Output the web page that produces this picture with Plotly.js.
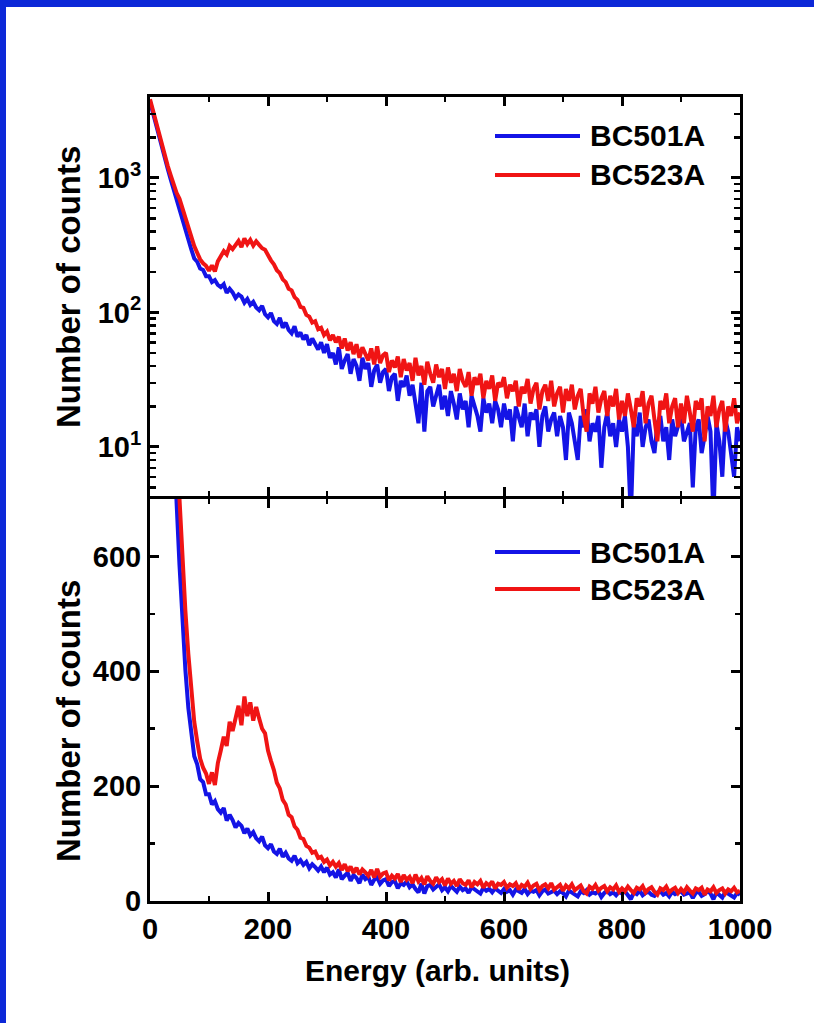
<!DOCTYPE html>
<html>
<head>
<meta charset="utf-8">
<script src="https://cdn.plot.ly/plotly-3.0.1.min.js"></script>
<style>
  html, body { margin: 0; padding: 0; background: #0c28d8; width: 814px; height: 1023px; overflow: hidden; }
  #chart { position: absolute; left: 6px; top: 7px; width: 808px; height: 1016px; background: #fff; }
</style>
</head>
<body>
<div id="chart"></div>
<script>
// ---- data ----
const seriesNames = ["BC501A", "BC523A"];
const energyStart = 0;     // first channel energy (arb. units)
const energyStep = 5;      // channel spacing (arb. units)

// counts per channel, BC501A (E = 0, 5, 10, ... 1000)
const countsBC501A = [
  3700,3020,2500,2030,1680,1390,1170,980,820,695,585,488,402,336,294,252,238,212,207,186,
  186,168,174,160,154,162,140,150,141,128,136,131,118,126,114,120,109,104,112,97,
  92,99,86,82,91,77,84,74,70,79,66,71,63,68,57,64,59,53,60,50,
  58,46,50,41,55,38,44,49,35,45,40,31,46,38,42,28,37,41,30,36,
  38,26,33,35,22,31,28,34,24,29,21,15,30,13,26,28,20,25,29,19,
  24,17,26,21,16,25,19,22,14,24,20,17,13,23,18,21,15,22,19,14,
  21,16,19,11,20,17,14,21,12,18,16,19,10,17,20,13,16,18,12,17,
  14,8,18,15,11,8,17,14,19,11,15,13,17,7,14,18,12,15,10,16,
  13,17,10,3,15,12,18,10,14,16,11,9,15,17,11,14,8,16,12,14,
  17,11,13,15,5,14,16,9,12,17,13,3,15,11,6,16,13,9,6,14,
  11
];

// counts per channel, BC523A (E = 0, 5, 10, ... 1000)
const countsBC523A = [
  3850,3150,2580,2120,1760,1470,1230,1050,900,775,700,590,505,430,365,312,278,248,232,222,
  204,224,202,240,262,286,270,312,296,322,340,306,356,322,346,314,338,318,300,292,
  262,244,228,206,196,176,168,150,146,130,124,110,108,96,93,84,86,75,77,68,
  72,62,68,60,66,54,64,52,60,49,58,46,55,50,44,54,41,56,42,48,
  50,36,44,39,47,33,45,37,42,31,46,34,40,29,43,35,30,41,33,38,
  27,39,30,35,26,38,31,28,36,24,33,29,35,23,31,27,34,22,30,28,
  33,23,29,26,31,20,28,25,32,21,27,30,19,26,29,22,31,20,25,28,
  18,27,22,29,19,24,27,17,13,25,21,28,18,23,26,17,24,20,27,16,
  22,17,25,19,14,23,20,26,15,21,24,16,11,22,19,25,15,20,23,14,
  21,15,24,18,13,22,19,23,11,20,17,24,14,19,22,13,20,17,23,15,
  18
];

const logTickVals = [10, 100, 1000];
const logTickText = ["10<sup>1</sup>", "10<sup>2</sup>", "10<sup>3</sup>"];
const xTitle = "Energy (arb. units)";
const yTitle = "Number of counts";

// ---- styling ----
const FONT = "Liberation Sans, Arial, Helvetica, sans-serif";
const BLUE = "#1414e6";
const RED = "#f01414";
const colors = [BLUE, RED];
const LW = 4;

// plot geometry inside the div
const ML = 144, MR = 74, MT = 90, MB = 122, W = 808, H = 1016;
const PW = W - ML - MR, PH = H - MT - MB;
// page pixel -> paper coords (div is offset by 6,7 on the page)
const px = (x) => (x - 6 - ML) / PW;
const py = (y) => (H - MB - (y - 7)) / PH;

const tickfont = { family: FONT, size: 29, color: "#000", weight: "bold" };

function baseAxis(extra) {
  return Object.assign({
    showline: true, linewidth: 3, linecolor: "#000", mirror: "ticks",
    ticks: "inside", ticklen: 9, tickwidth: 3, tickcolor: "#000",
    showgrid: false, zeroline: false, tickfont: tickfont, fixedrange: true
  }, extra);
}

const traces = [];
const datasets = [countsBC501A, countsBC523A];
[["x", "y"], ["x2", "y2"]].forEach(([xa, ya]) => {
  datasets.forEach((d, i) => {
    traces.push({
      type: "scatter", mode: "lines",
      x0: energyStart, dx: energyStep, y: d,
      xaxis: xa, yaxis: ya, name: seriesNames[i],
      line: { color: colors[i], width: LW },
      hoverinfo: "skip", showlegend: false
    });
  });
});

const minorX = { dtick: 100, ticks: "inside", ticklen: 5, tickwidth: 2.5, tickcolor: "#000", showgrid: false };

// top panel starts 3px above the bottom panel so both frame lines coincide at the divider
const gap = 3 / PH;

const layout = {
  width: W, height: H,
  margin: { l: ML, r: MR, t: MT, b: MB },
  paper_bgcolor: "#fff", plot_bgcolor: "#fff",
  showlegend: false,
  font: { family: FONT, color: "#000" },
  xaxis: baseAxis({ anchor: "y", range: [0, 1000], tick0: 0, dtick: 200, minor: minorX }),
  xaxis2: baseAxis({ anchor: "y2", range: [0, 1000], tick0: 0, dtick: 200, minor: minorX, showticklabels: false }),
  yaxis: baseAxis({ anchor: "x", domain: [0, 0.5], range: [0, 700], tick0: 0, dtick: 200,
    minor: { dtick: 100, ticks: "inside", ticklen: 5, tickwidth: 2.5, tickcolor: "#000", showgrid: false } }),
  yaxis2: baseAxis({ anchor: "x2", domain: [0.5 + gap, 1], type: "log", range: [0.635, 3.602],
    tickmode: "array", tickvals: logTickVals, ticktext: logTickText,
    minor: { dtick: "D1", ticks: "inside", ticklen: 6, tickwidth: 2.5, tickcolor: "#000", showgrid: false } }),
  annotations: [],
  shapes: []
};

// axis titles
const titleFont = { family: FONT, size: 30, color: "#000", weight: "bold" };
const yTitleFont = { family: FONT, size: 33, color: "#000", weight: "bold" };
layout.annotations.push({ xref: "paper", yref: "paper", x: px(437), y: py(970), text: xTitle,
  showarrow: false, xanchor: "center", yanchor: "middle", font: titleFont });
[287, 721].forEach(cy => {
  layout.annotations.push({ xref: "paper", yref: "paper", x: px(68), y: py(cy), text: yTitle,
    textangle: -90, showarrow: false, xanchor: "center", yanchor: "middle", font: yTitleFont });
});

// legends (one per panel)
const legendFont = { family: FONT, size: 30, color: "#000", weight: "bold" };
[[136, 175], [552, 589]].forEach(rows => {
  rows.forEach((cy, i) => {
    layout.shapes.push({ type: "line", xref: "paper", yref: "paper",
      x0: px(495), x1: px(580), y0: py(cy), y1: py(cy),
      line: { color: colors[i], width: LW } });
    layout.annotations.push({ xref: "paper", yref: "paper", x: px(588), y: py(cy), text: seriesNames[i],
      showarrow: false, xanchor: "left", yanchor: "middle", font: legendFont });
  });
});

Plotly.newPlot("chart", traces, layout, { displayModeBar: false, staticPlot: true });
</script>
</body>
</html>
